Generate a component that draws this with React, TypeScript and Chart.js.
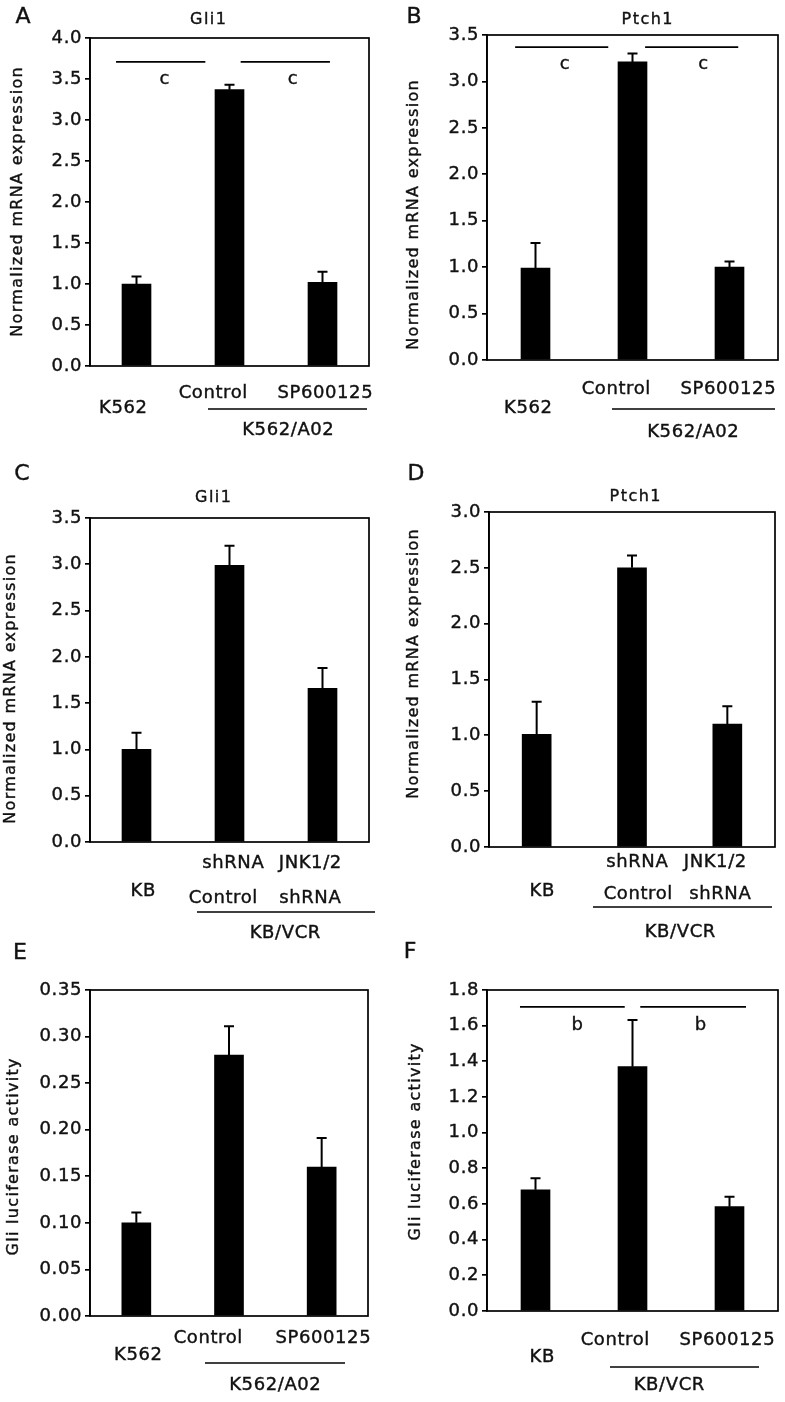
import React, { useEffect, useRef } from "react";
import { Chart, registerables } from "chart.js";

Chart.register(...registerables);

// ---------------- data ----------------
const catsK562 = ["K562", "Control", "SP600125"];
const catsKB = ["KB", "Control shRNA", "JNK1/2 shRNA"];
const catsKBsp = ["KB", "Control", "SP600125"];

const gli1K562 = [1.0, 3.37, 1.02];
const gli1K562Err = [0.09, 0.06, 0.13];
const ptch1K562 = [0.99, 3.21, 1.0];
const ptch1K562Err = [0.27, 0.09, 0.06];
const gli1KB = [1.0, 2.99, 1.66];
const gli1KBErr = [0.18, 0.21, 0.22];
const ptch1KB = [1.01, 2.5, 1.1];
const ptch1KBErr = [0.29, 0.11, 0.16];
const lucK562 = [0.1, 0.28, 0.16];
const lucK562Err = [0.011, 0.031, 0.031];
const lucKB = [0.68, 1.37, 0.585];
const lucKBErr = [0.064, 0.262, 0.056];

const ticksA = [0, 0.5, 1, 1.5, 2, 2.5, 3, 3.5, 4];
const ticks35 = [0, 0.5, 1, 1.5, 2, 2.5, 3, 3.5];
const ticks30 = [0, 0.5, 1, 1.5, 2, 2.5, 3];
const ticksE = [0, 0.05, 0.1, 0.15, 0.2, 0.25, 0.3, 0.35];
const ticksF = [0, 0.2, 0.4, 0.6, 0.8, 1.0, 1.2, 1.4, 1.6, 1.8];

// significance bars: [fromCategory, toCategory, value]
const sigLinesA = [[-0.22, 0.74, 3.71], [1.12, 2.08, 3.71]];
const sigMarksA = [[0.3, 3.49, "c"], [1.68, 3.49, "c"]];
const sigLinesB = [[-0.21, 0.75, 3.37], [1.13, 2.09, 3.37]];
const sigMarksB = [[0.3, 3.18, "c"], [1.73, 3.18, "c"]];
const sigLinesF = [[-0.16, 0.92, 1.705], [1.08, 2.17, 1.705]];
const sigMarksF = [[0.43, 1.6, "b"], [1.7, 1.6, "b"]];

// ---------------- layout ----------------
const W = 785;
const H = 1402;
const FONT = '"DejaVu Sans", Verdana, sans-serif';
const INK = "#111";
const LABEL_SIZE = 18;
const LABEL_SP = 0.6;

type Txt = [string, number, number];
type Panel = {
  letter: string;
  letterPos: [number, number];
  title?: string;
  titlePos?: [number, number];
  yTitle: string;
  yTitlePos: [number, number];
  cats: string[];
  values: number[];
  errors: number[];
  yMax: number;
  yTicks: number[];
  decimals: number;
  plot: { l: number; t: number; r: number; b: number };
  xText: Txt[];
  xLines: [number, number, number][];
  sigLines?: number[][];
  sigMarks?: (number | string)[][];
};

const MRNA = "Normalized mRNA expression";
const LUC = "Gli luciferase activity";

const panels: Panel[] = [
  {
    letter: "A", letterPos: [23, 17], title: "Gli1", titlePos: [208, 20],
    yTitle: MRNA, yTitlePos: [18, 202],
    cats: catsK562, values: gli1K562, errors: gli1K562Err,
    yMax: 4, yTicks: ticksA, decimals: 1,
    plot: { l: 90, t: 38, r: 369, b: 366 },
    xText: [["K562", 123, 408], ["Control", 213, 393], ["SP600125", 325, 393], ["K562/A02", 288, 430]],
    xLines: [[208, 367, 409]],
    sigLines: sigLinesA, sigMarks: sigMarksA,
  },
  {
    letter: "B", letterPos: [414, 17], title: "Ptch1", titlePos: [647, 20],
    yTitle: MRNA, yTitlePos: [414, 215],
    cats: catsK562, values: ptch1K562, errors: ptch1K562Err,
    yMax: 3.5, yTicks: ticks35, decimals: 1,
    plot: { l: 487, t: 35, r: 778, b: 360 },
    xText: [["K562", 528, 408], ["Control", 616, 389], ["SP600125", 728, 389], ["K562/A02", 693, 432]],
    xLines: [[612, 775, 409]],
    sigLines: sigLinesB, sigMarks: sigMarksB,
  },
  {
    letter: "C", letterPos: [22, 474], title: "Gli1", titlePos: [213, 498],
    yTitle: MRNA, yTitlePos: [11, 689],
    cats: catsKB, values: gli1KB, errors: gli1KBErr,
    yMax: 3.5, yTicks: ticks35, decimals: 1,
    plot: { l: 90, t: 518, r: 369, b: 842 },
    xText: [["shRNA", 233, 863], ["JNK1/2", 310, 863], ["KB", 143, 891], ["Control", 223, 898], ["shRNA", 310, 898], ["KB/VCR", 285, 933]],
    xLines: [[197, 375, 912]],
  },
  {
    letter: "D", letterPos: [416, 474], title: "Ptch1", titlePos: [635, 497],
    yTitle: MRNA, yTitlePos: [414, 664],
    cats: catsKB, values: ptch1KB, errors: ptch1KBErr,
    yMax: 3, yTicks: ticks30, decimals: 1,
    plot: { l: 489, t: 512, r: 775, b: 847 },
    xText: [["shRNA", 637, 862], ["JNK1/2", 715, 862], ["KB", 542, 891], ["Control", 638, 894], ["shRNA", 720, 894], ["KB/VCR", 680, 932]],
    xLines: [[593, 772, 907]],
  },
  {
    letter: "E", letterPos: [20, 953],
    yTitle: LUC, yTitlePos: [14, 1157],
    cats: catsK562, values: lucK562, errors: lucK562Err,
    yMax: 0.35, yTicks: ticksE, decimals: 2,
    plot: { l: 90, t: 990, r: 368, b: 1316 },
    xText: [["Control", 208, 1338], ["SP600125", 323, 1338], ["K562", 138, 1355], ["K562/A02", 275, 1385]],
    xLines: [[205, 345, 1363]],
  },
  {
    letter: "F", letterPos: [410, 952],
    yTitle: LUC, yTitlePos: [416, 1142],
    cats: catsKBsp, values: lucKB, errors: lucKBErr,
    yMax: 1.8, yTicks: ticksF, decimals: 1,
    plot: { l: 487, t: 990, r: 778, b: 1311 },
    xText: [["Control", 615, 1340], ["SP600125", 727, 1340], ["KB", 542, 1357], ["KB/VCR", 669, 1385]],
    xLines: [[610, 759, 1367]],
    sigLines: sigLinesF, sigMarks: sigMarksF,
  },
];

function text(ctx: CanvasRenderingContext2D, s: string, x: number, y: number, size: number, spacing = 1) {
  ctx.save();
  (ctx as any).letterSpacing = spacing + "px";
  ctx.font = `${size}px ${FONT}`;
  ctx.fillStyle = INK;
  ctx.strokeStyle = INK;
  ctx.lineWidth = 0.4;
  ctx.textAlign = "center";
  ctx.textBaseline = "middle";
  ctx.fillText(s, x + spacing / 2, y);
  ctx.strokeText(s, x + spacing / 2, y);
  ctx.restore();
}

function makeChart(canvas: HTMLCanvasElement, p: Panel) {
  const decor = {
    id: "decor",
    beforeDraw(chart: any) {
      (chart.ctx as any).letterSpacing = LABEL_SP + "px";
    },
    afterDatasetsDraw(chart: any) {
      const ctx: CanvasRenderingContext2D = chart.ctx;
      const a = chart.chartArea;
      const xs = chart.scales.x;
      const ys = chart.scales.y;
      ctx.save();
      ctx.strokeStyle = "#000";
      ctx.lineWidth = 1.7;
      ctx.strokeRect(a.left, a.top, a.right - a.left, a.bottom - a.top);
      // error bars
      const meta = chart.getDatasetMeta(0);
      ctx.lineWidth = 2;
      p.values.forEach((v, i) => {
        const x = meta.data[i].x;
        const y0 = ys.getPixelForValue(v);
        const y1 = ys.getPixelForValue(v + p.errors[i]);
        ctx.beginPath();
        ctx.moveTo(x, y0);
        ctx.lineTo(x, y1);
        ctx.moveTo(x - 5, y1);
        ctx.lineTo(x + 5, y1);
        ctx.stroke();
      });
      // significance
      ctx.lineWidth = 1.7;
      (p.sigLines || []).forEach(([f, t, v]) => {
        const y = ys.getPixelForValue(v);
        ctx.beginPath();
        ctx.moveTo(xs.getPixelForValue(f), y);
        ctx.lineTo(xs.getPixelForValue(t), y);
        ctx.stroke();
      });
      ctx.restore();
      (p.sigMarks || []).forEach(([at, v, s]) => {
        text(ctx, s as string, xs.getPixelForValue(at as number), ys.getPixelForValue(v as number), 18, 0);
      });
    },
    afterDraw(chart: any) {
      const ctx: CanvasRenderingContext2D = chart.ctx;
      text(ctx, p.letter, p.letterPos[0], p.letterPos[1], 22, 0);
      if (p.title && p.titlePos) text(ctx, p.title, p.titlePos[0], p.titlePos[1], 16, 1.5);
      ctx.save();
      ctx.translate(p.yTitlePos[0], p.yTitlePos[1]);
      ctx.rotate(-Math.PI / 2);
      text(ctx, p.yTitle, 0, 0, 16, 1.3);
      ctx.restore();
      p.xText.forEach(([s, x, y]) => text(ctx, s, x, y, LABEL_SIZE, LABEL_SP));
      ctx.save();
      ctx.strokeStyle = "#000";
      ctx.lineWidth = 1.7;
      p.xLines.forEach(([x1, x2, y]) => {
        ctx.beginPath();
        ctx.moveTo(x1, y);
        ctx.lineTo(x2, y);
        ctx.stroke();
      });
      ctx.restore();
    },
  };

  return new Chart(canvas, {
    type: "bar",
    data: {
      labels: p.cats,
      datasets: [
        {
          data: p.values,
          backgroundColor: "#000",
          borderWidth: 0,
          barThickness: 29,
        },
      ],
    },
    options: {
      responsive: false,
      animation: false,
      devicePixelRatio: 1,
      layout: {
        padding: { left: 0, top: p.plot.t, right: W - p.plot.r, bottom: H - p.plot.b },
      },
      plugins: {
        legend: { display: false },
        tooltip: { enabled: false },
        title: { display: false },
      },
      scales: {
        x: { display: false, offset: true },
        y: {
          min: 0,
          max: p.yMax,
          afterBuildTicks: (s: any) => {
            s.ticks = p.yTicks.map((v) => ({ value: v }));
          },
          afterFit: (s: any) => {
            s.width = p.plot.l;
          },
          ticks: {
            callback: (v: any) => Number(v).toFixed(p.decimals),
            font: { family: FONT, size: LABEL_SIZE },
            color: INK,
            textStrokeColor: INK,
            textStrokeWidth: 0.4,
            padding: 3,
          },
          grid: {
            display: true,
            drawOnChartArea: false,
            drawTicks: true,
            tickLength: 5,
            color: "#000",
            lineWidth: 1.7,
          },
          border: { display: true, color: "#000", width: 1.7 },
        },
      },
    } as any,
    plugins: [decor],
  });
}

function PanelCanvas({ p }: { p: Panel }) {
  const ref = useRef<HTMLCanvasElement>(null);
  useEffect(() => {
    if (!ref.current) return;
    const c = makeChart(ref.current, p);
    return () => c.destroy();
  }, [p]);
  return (
    <canvas
      ref={ref}
      width={W}
      height={H}
      style={{ position: "absolute", left: 0, top: 0, width: W, height: H }}
    />
  );
}

export default function App() {
  return (
    <div style={{ position: "absolute", left: 0, top: 0, width: W, height: H, background: "#fff", overflow: "hidden" }}>
      {panels.map((p) => (
        <PanelCanvas key={p.letter} p={p} />
      ))}
    </div>
  );
}
